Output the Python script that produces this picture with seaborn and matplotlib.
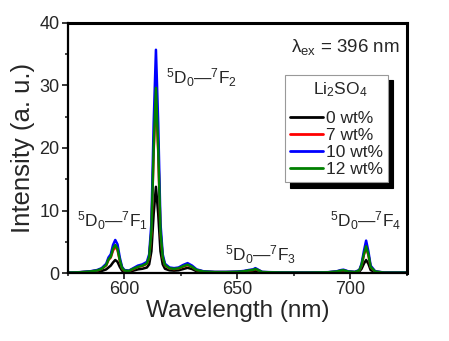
import numpy as np
import pandas as pd
import matplotlib
matplotlib.use("Agg")
import matplotlib.pyplot as plt
from matplotlib.ticker import MultipleLocator
import seaborn as sns

wavelength = [575, 580, 585, 588, 590, 592, 593, 594, 595, 596, 597, 598, 599, 600,
              602, 604, 606, 608, 610, 611, 612, 613, 614, 615, 616, 617, 618, 620,
              622, 624, 626, 628, 630, 632, 635, 640, 645, 650, 653, 655, 657, 658,
              659, 661, 665, 670, 680, 690, 694, 696, 697, 699, 702, 704, 705, 706,
              707, 708, 709, 711, 715, 720, 725]

i_0wt = [0.05, 0.08, 0.15, 0.25, 0.35, 0.6, 0.9, 1.2, 1.7, 2.1, 1.8, 1.0, 0.4, 0.2,
         0.2, 0.4, 0.6, 0.7, 0.9, 1.4, 3.5, 9.5, 13.8, 9.5, 3.5, 1.4, 0.7, 0.45,
         0.4, 0.45, 0.65, 0.85, 0.65, 0.3, 0.15, 0.1, 0.1, 0.12, 0.18, 0.25, 0.3, 0.4,
         0.3, 0.1, 0.08, 0.06, 0.05, 0.08, 0.15, 0.25, 0.28, 0.15, 0.1, 0.25, 0.7, 1.5,
         2.1, 1.5, 0.5, 0.15, 0.05, 0.05, 0.05]

i_7wt = [0.09, 0.13, 0.26, 0.42, 0.7, 1.25, 2.1, 2.5, 3.6, 4.2, 3.7, 2.0, 0.8, 0.4,
         0.35, 0.65, 1.0, 1.15, 1.5, 2.5, 6.5, 19.5, 28.5, 19.5, 6.5, 2.5, 1.25, 0.75,
         0.65, 0.75, 1.05, 1.3, 1.0, 0.5, 0.25, 0.17, 0.17, 0.2, 0.3, 0.42, 0.5, 0.65,
         0.5, 0.17, 0.12, 0.1, 0.08, 0.12, 0.25, 0.42, 0.45, 0.25, 0.17, 0.42, 1.25, 2.9,
         4.1, 2.9, 1.0, 0.25, 0.08, 0.08, 0.08]

i_10wt = [0.1, 0.15, 0.3, 0.5, 0.8, 1.5, 2.5, 3.0, 4.5, 5.3, 4.6, 2.5, 1.0, 0.5,
          0.4, 0.8, 1.2, 1.4, 1.8, 3.0, 8.0, 24.0, 35.7, 24.0, 8.0, 3.0, 1.5, 0.9,
          0.8, 0.9, 1.3, 1.6, 1.2, 0.6, 0.3, 0.2, 0.2, 0.25, 0.35, 0.5, 0.6, 0.8,
          0.6, 0.2, 0.15, 0.12, 0.1, 0.15, 0.3, 0.5, 0.55, 0.3, 0.2, 0.5, 1.5, 3.5,
          5.2, 3.5, 1.2, 0.3, 0.1, 0.1, 0.1]

i_12wt = [0.09, 0.13, 0.27, 0.43, 0.7, 1.3, 2.2, 2.6, 3.9, 4.5, 3.9, 2.1, 0.85, 0.42,
          0.35, 0.7, 1.0, 1.2, 1.55, 2.6, 6.7, 20.0, 29.6, 20.0, 6.7, 2.6, 1.3, 0.78,
          0.68, 0.78, 1.1, 1.35, 1.0, 0.5, 0.26, 0.17, 0.17, 0.21, 0.3, 0.43, 0.52, 0.68,
          0.52, 0.17, 0.13, 0.1, 0.08, 0.13, 0.26, 0.43, 0.47, 0.26, 0.17, 0.43, 1.3, 3.0,
          4.3, 3.0, 1.0, 0.26, 0.08, 0.08, 0.08]

labels = ["0 wt%", "7 wt%", "10 wt%", "12 wt%"]
colors = ["#000000", "#ff0000", "#0000ff", "#008000"]

df = pd.concat([
    pd.DataFrame({"Wavelength": wavelength, "Intensity": vals, "Li2SO4": lab})
    for vals, lab in zip([i_0wt, i_7wt, i_10wt, i_12wt], labels)
], ignore_index=True)

sns.set_style("white")
plt.rcParams["font.family"] = ["Liberation Sans", "DejaVu Sans"]
plt.rcParams["mathtext.fontset"] = "custom"
plt.rcParams["mathtext.rm"] = "Liberation Sans"
plt.rcParams["mathtext.it"] = "Liberation Sans"

fig = plt.figure(figsize=(4.49, 3.41), dpi=100)
ax = fig.add_axes([0.151, 0.199, 0.755, 0.734])

sns.lineplot(data=df, x="Wavelength", y="Intensity", hue="Li2SO4",
             hue_order=labels, palette=colors, linewidth=1.8, ax=ax,
             estimator=None, sort=False)

ax.set_xlim(575, 725)
ax.set_ylim(0, 40)
ax.xaxis.set_major_locator(MultipleLocator(50))
ax.xaxis.set_minor_locator(MultipleLocator(25))
ax.yaxis.set_major_locator(MultipleLocator(10))
ax.yaxis.set_minor_locator(MultipleLocator(5))
ax.tick_params(which="major", direction="out", length=4, width=1.3, labelsize=13,
               bottom=True, left=True, pad=2)
ax.tick_params(which="minor", direction="out", length=2.5, width=1.2,
               bottom=True, left=True)
for s in ["left", "bottom"]:
    ax.spines[s].set_linewidth(1.6)
    ax.spines[s].set_color("black")
for s in ["top", "right"]:
    ax.spines[s].set_visible(True)
    ax.spines[s].set_linewidth(2.2)
    ax.spines[s].set_color("black")

ax.set_xlabel("Wavelength (nm)", fontsize=17.5, labelpad=1)
ax.set_ylabel("Intensity (a. u.)", fontsize=18.5, labelpad=3)

ax.text(0.98, 0.905, r"$\mathregular{\lambda_{ex}}$ = 396 nm", transform=ax.transAxes,
        ha="right", va="center", fontsize=13.5)
ann = 12.5
ax.text(618.5, 31.3, r"$\mathregular{^5D_0}$—$\mathregular{^7F_2}$", ha="left",
        va="center", fontsize=ann)
ax.text(579, 8.4, r"$\mathregular{^5D_0}$—$\mathregular{^7F_1}$", ha="left",
        va="center", fontsize=ann)
ax.text(644.5, 3.0, r"$\mathregular{^5D_0}$—$\mathregular{^7F_3}$", ha="left",
        va="center", fontsize=ann)
ax.text(691, 8.4, r"$\mathregular{^5D_0}$—$\mathregular{^7F_4}$", ha="left",
        va="center", fontsize=ann)

leg = ax.legend(title=r"Li$\mathregular{_2}$SO$\mathregular{_4}$    ", loc="upper right",
                bbox_to_anchor=(0.944, 0.792), fontsize=12.5, title_fontsize=12.5,
                handlelength=1.9, handletextpad=0.15, borderpad=0.3,
                labelspacing=0.1, borderaxespad=0, alignment="right",
                fancybox=False,
                shadow={"color": "black", "alpha": 1, "ox": 4, "oy": -4})
leg._legend_box.sep = 9
leg.get_frame().set_edgecolor("#999999")
leg.get_frame().set_linewidth(0.8)
for line in leg.get_lines():
    line.set_linewidth(2)

fig.savefig("out.png", dpi=100)
